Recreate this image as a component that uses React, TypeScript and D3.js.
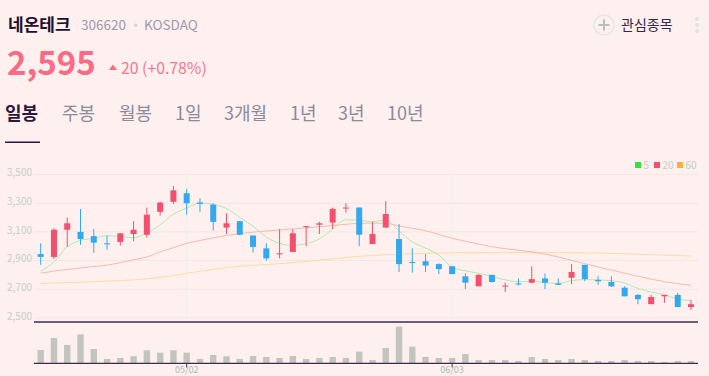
import React from 'react';
import * as d3 from 'd3';

const dates = ['04/16','04/17','04/18','04/19','04/22','04/23','04/24','04/25','04/26','04/29','04/30','05/02','05/03','05/07','05/08','05/09','05/10','05/13','05/14','05/16','05/17','05/20','05/21','05/22','05/23','05/24','05/27','05/28','05/29','05/30','05/31','06/03','06/04','06/05','06/07','06/10','06/11','06/12','06/13','06/14','06/17','06/18','06/19','06/20','06/21','06/24','06/25','06/26','06/27','06/28'];

const opens  = [2945,2925,3115,3100,3070,3020,3030,3085,3080,3240,3310,3370,3305,3290,3130,3175,3075,2985,2945,2960,3135,3150,3165,3265,3270,3015,3130,3050,2890,2895,2875,2860,2790,2720,2800,2720,2740,2745,2775,2740,2780,2870,2765,2750,2710,2660,2595,2650,2660,2575];
const highs  = [3020,3125,3200,3260,3120,3075,3090,3175,3270,3310,3420,3400,3335,3300,3230,3175,3075,3020,3120,3120,3140,3170,3270,3300,3270,3170,3315,3155,2985,2945,2880,2860,2810,2805,2800,2745,2775,2860,2810,2775,2875,2870,2790,2790,2720,2665,2660,2660,2675,2625];
const lows   = [2870,2910,2995,3010,2955,2975,3005,3035,3060,3215,3295,3220,3240,3110,3085,3075,2955,2900,2915,2960,3000,3085,3120,3235,3000,3015,3130,2820,2815,2820,2805,2805,2700,2720,2745,2680,2725,2740,2700,2730,2735,2755,2730,2715,2650,2595,2595,2605,2575,2555];
const closes = [2925,3115,3160,3050,3025,3015,3090,3115,3220,3305,3390,3300,3295,3170,3160,3080,2995,2915,2950,3090,3140,3160,3260,3270,3080,3085,3225,2875,2885,2865,2840,2805,2745,2800,2750,2725,2735,2770,2745,2730,2820,2770,2755,2720,2650,2630,2645,2660,2575,2595];
const volumes = [400,760,550,870,430,130,160,210,390,320,390,320,130,250,210,130,220,190,160,220,130,160,190,160,350,100,460,1100,500,190,160,160,280,100,100,100,70,190,130,100,130,100,70,70,100,70,70,40,70,70];

const ma5  = [2826,2891,2996,3041,3055,3073,3068,3059,3093,3149,3224,3266,3302,3292,3263,3201,3140,3064,3020,3006,3018,3051,3120,3184,3182,3171,3184,3107,3030,2987,2938,2854,2828,2811,2788,2765,2751,2756,2745,2741,2760,2767,2764,2759,2743,2705,2680,2661,2632,2621];
const ma20 = [2812,2826,2838,2848,2858,2868,2885,2905,2925,2960,2990,3020,3040,3058,3075,3088,3098,3106,3113,3120,3128,3136,3145,3153,3160,3162,3160,3142,3125,3108,3082,3055,3035,3015,2996,2983,2972,2960,2945,2925,2902,2878,2855,2833,2812,2790,2770,2752,2738,2726];
const ma60 = [2740,2743,2746,2749,2752,2756,2760,2765,2772,2782,2795,2810,2825,2838,2850,2860,2866,2872,2878,2886,2894,2903,2912,2921,2930,2935,2940,2944,2947,2950,2952,2954,2955,2955,2955,2955,2955,2955,2955,2955,2954,2953,2952,2950,2947,2944,2941,2938,2935,2931];

const yTicks = [3500, 3300, 3100, 2900, 2700, 2500];
const xTickLabels = ['05/02', '06/03'];
const tabs = ['일봉', '주봉', '월봉', '1일', '3개월', '1년', '3년', '10년'];
const tabX = [5, 62, 119, 175, 224, 290, 338, 387];
const legendItems = [
  { label: '5', color: '#2ee63a' },
  { label: '20', color: '#f5506e' },
  { label: '60', color: '#f8b040' },
];

const W = 709, H = 376;
const FONT = '"Noto Sans CJK KR", "Noto Sans", sans-serif';
const UP = '#f2506d';
const DOWN = '#32a9ee';
const DARK = '#3f2b50';

export default function App() {
  const x = d3.scalePoint<string>().domain(dates).range([40.7, 691]);
  const y = d3.scaleLinear().domain([2500, 3500]).range([317.8, 174.6]);
  const yv = d3.scaleLinear().domain([0, 1170]).range([363.3, 324.3]);
  const plotL = 34, plotR = 698;
  const bodyW = 6;

  const maLine = (arr: number[]) =>
    d3.line<number>().x((_, i) => x(dates[i]) as number).y(d => y(d)).curve(d3.curveMonotoneX)(arr) || '';

  return (
    <svg width={W} height={H} style={{ position: 'absolute', left: 0, top: 0, fontFamily: FONT }}>
      <rect x={0} y={0} width={W} height={H} fill="#fdf0ef" />

      {/* header */}
      <text x={8} y={31} fontSize={17} fontWeight={700} fill="#1e0f2e">네온테크</text>
      <text x={81} y={30} fontSize={13.5} fill="#9c9aaa">306620</text>
      <circle cx={135.7} cy={25.3} r={1.8} fill="#d2d8d4" />
      <text x={144} y={30} fontSize={13.5} fill="#9c9aaa">KOSDAQ</text>
      <text x={7} y={75} fontSize={33} fontWeight={600} fill="#fc6a83">2,595</text>
      <polygon points="109,70 117,70 113,64.5" fill="#fc6a83" />
      <text x={121} y={74} fontSize={15.8} fill="#f7788c">20 (+0.78%)</text>

      <circle cx={604} cy={25} r={10} fill="none" stroke="#e2e8e3" strokeWidth={1.5} />
      <line x1={598.5} x2={609.5} y1={25} y2={25} stroke="#b3c1b8" strokeWidth={2} />
      <line x1={604} x2={604} y1={19.5} y2={30.5} stroke="#b3c1b8" strokeWidth={2} />
      <text x={621} y={30} fontSize={14} fill="#3a2748">관심종목</text>
      {[19, 25, 31].map(cy => <circle key={cy} cx={697} cy={cy} r={2} fill="#dbe5df" />)}

      {/* tabs */}
      {tabs.map((t, i) => (
        <text key={t} x={tabX[i]} y={120} fontSize={18} fontWeight={i === 0 ? 700 : 400} fill={i === 0 ? '#2b1742' : '#8d8a9a'}>{t}</text>
      ))}
      <rect x={5} y={141.5} width={35} height={1.5} fill="#2b1742" />

      {/* legend */}
      {legendItems.map((l, i) => {
        const lx = [635, 654, 677][i];
        return (
          <g key={l.label}>
            <rect x={lx} y={162} width={6} height={6} fill={l.color} />
            <text x={lx + 8.5} y={168.5} fontSize={10} fill="#c5cdc6">{l.label}</text>
          </g>
        );
      })}

      {/* grid */}
      {yTicks.map(t => (
        <g key={t}>
          <line x1={plotL} x2={plotR} y1={y(t)} y2={y(t)} stroke="#f2e6e6" strokeWidth={1} />
          <text x={7} y={y(t) + 1.8} fontSize={10} fill="#c6cfc7">{d3.format(',')(t)}</text>
        </g>
      ))}
      {xTickLabels.map(d => (
        <line key={d} x1={x(d)} x2={x(d)} y1={174} y2={318} stroke="#eef0ec" strokeWidth={1} />
      ))}

      {/* moving averages */}
      <path d={maLine(ma60)} fill="none" stroke="#fcd690" strokeOpacity={0.8} strokeWidth={1} />
      <path d={maLine(ma20)} fill="none" stroke="#f8ab9c" strokeOpacity={0.8} strokeWidth={1} />
      <path d={maLine(ma5)} fill="none" stroke="#a6e8a4" strokeOpacity={0.85} strokeWidth={1} />

      {/* candles */}
      {dates.map((d, i) => {
        const cx = x(d) as number;
        const up = closes[i] >= opens[i];
        const c = up ? UP : DOWN;
        const top = y(Math.max(opens[i], closes[i]));
        const bot = y(Math.min(opens[i], closes[i]));
        return (
          <g key={d}>
            <line x1={cx} x2={cx} y1={y(highs[i])} y2={y(lows[i])} stroke={c} strokeWidth={1} />
            <rect x={cx - bodyW / 2} y={top} width={bodyW} height={Math.max(1, bot - top)} fill={c} />
          </g>
        );
      })}

      <line x1={plotL} x2={plotR} y1={322} y2={322} stroke={DARK} strokeWidth={1.3} />

      {/* volume */}
      {dates.map((d, i) => {
        const cx = x(d) as number;
        return <rect key={d} x={cx - 3.2} y={yv(volumes[i])} width={6.4} height={yv(0) - yv(volumes[i])} fill="#c2c5bf" />;
      })}
      <line x1={plotL} x2={plotR} y1={363.3} y2={363.3} stroke={DARK} strokeWidth={1.3} />
      {xTickLabels.map(d => (
        <g key={d}>
          <line x1={x(d)} x2={x(d)} y1={363} y2={367.5} stroke={DARK} strokeWidth={1} />
          <text x={x(d)} y={372.8} fontSize={9} textAnchor="middle" fill="#a9bcb2">{d}</text>
        </g>
      ))}
    </svg>
  );
}
